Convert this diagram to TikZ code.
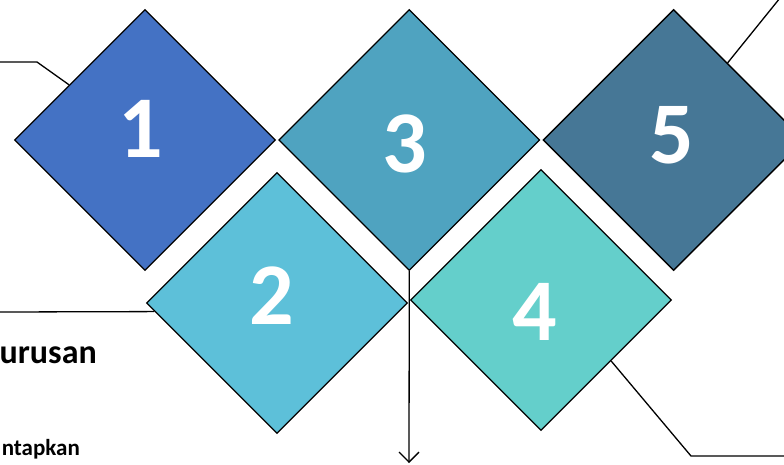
\documentclass[tikz,border=0pt]{standalone}
\usepackage{fontspec}
\setmainfont{Carlito}
\usetikzlibrary{shapes.geometric, positioning, arrows.meta}

\definecolor{dia1}{HTML}{4472C4}
\definecolor{dia2}{HTML}{5DC0D9}
\definecolor{dia3}{HTML}{4FA3C0}
\definecolor{dia4}{HTML}{64CFCB}
\definecolor{dia5}{HTML}{467796}

\tikzset{
  tile/.style={diamond, aspect=1, draw=black, line width=1.3pt, inner sep=0pt,
               minimum width=261pt, minimum height=261pt},
  num/.style={text=white, font=\bfseries\fontsize{88}{90}\selectfont},
  lead/.style={draw=black, line width=1.3pt},
}

\begin{document}
\begin{tikzpicture}[x=1pt, y=-1pt]
   \useasboundingbox (0,0) rectangle (784,464);
   % the five tiles
   \node[tile, fill=dia1] (d1) at (145,140) {};
   \node[tile, fill=dia3, right = 2pt of d1] (d3) {};
   \node[tile, fill=dia5, right = 2pt of d3] (d5) {};
   \node[tile, fill=dia2] (d2) at (277,303) {};
   \node[tile, fill=dia4] (d4) at (541,300) {};
   % numbers
   \node[num] (n1) at (141,129) {1};
   \node[num] (n2) at (272,296) {2};
   \node[num] (n3) at (405,144) {3};
   \node[num] (n4) at (535,312) {4};
   \node[num] (n5) at (672,135) {5};
   % texts on the left
   \node[anchor=base east, inner sep=0pt, font=\bfseries\fontsize{34}{40}\selectfont] (t1) at (97,363) {urusan};
   \node[anchor=base east, inner sep=0pt, font=\bfseries\fontsize{23}{27}\selectfont] (t2) at (80,455) {ntapkan};
   % leader lines
   \coordinate (e1) at (0,62);
   \coordinate (k1) at (37,62);
   \coordinate (e2) at (0,312);
   \coordinate (e5) at (780,-2);
   \coordinate (k4) at (691,456);
   \coordinate (e4) at (784,456);
   \coordinate (down) at (409,463);
   \draw[lead] (e1) -- (k1) -- (d1.144);
   \draw[lead] (e2) -- (d2.184);
   \draw[lead] (d5.55) -- (e5);
   \draw[lead] (d4.-41) -- (k4) -- (e4);
   \draw[lead, -{Straight Barb[length=10pt, width=20pt]}] (d3.south) -- (down);
\end{tikzpicture}
\end{document}
